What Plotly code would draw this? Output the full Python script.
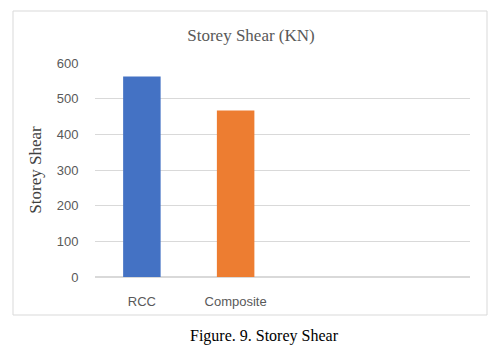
import plotly.graph_objects as go

categories = ["RCC", "Composite"]
values = [562, 467]
colors = ["#4472C4", "#ED7D31"]
y_ticks = [0, 100, 200, 300, 400, 500, 600]

fig = go.Figure()
fig.add_trace(go.Bar(
    x=list(range(len(categories))), y=values,
    marker=dict(color=colors, line=dict(width=0)),
    width=0.4, showlegend=False, hoverinfo="skip",
))

fig.update_layout(
    width=496, height=355,
    margin=dict(l=95, r=26, t=63, b=78),
    paper_bgcolor="white", plot_bgcolor="white",
    title=dict(text="Storey Shear (KN)", x=(251-0)/496, xanchor="center",
               y=1-35/355, yanchor="middle",
               font=dict(family="Liberation Serif", size=17, color="#595959")),
    xaxis=dict(range=[-0.5, 3.5], tickvals=[0, 1], ticktext=categories,
               showgrid=False, zeroline=False, showline=False,
               ticks="outside", ticklen=12, tickcolor="rgba(0,0,0,0)",
               tickfont=dict(family="Liberation Sans", size=13, color="#595959")),
    yaxis=dict(range=[0, 600], tickvals=y_ticks, showgrid=True, gridcolor="#d9d9d9",
               gridwidth=1, zeroline=True, zerolinecolor="#d9d9d9", showline=False,
               ticks="outside", ticklen=13, tickcolor="rgba(0,0,0,0)",
               tickfont=dict(family="Liberation Sans", size=13, color="#595959"),
               title=dict(text="Storey Shear", standoff=10,
                          font=dict(family="Liberation Serif", size=17, color="#404040"))),
    shapes=[dict(type="rect", xref="paper", yref="paper",
                 x0=(13-95)/375, x1=(487-95)/375, y0=(277-315)/214, y1=(277-11)/214,
                 line=dict(color="#d9d9d9", width=1), fillcolor="rgba(0,0,0,0)", layer="below")],
    annotations=[dict(text="Figure. 9. Storey Shear", xref="paper", yref="paper",
                      x=(264-95)/375, y=(277-336)/214, xanchor="center", yanchor="middle",
                      showarrow=False,
                      font=dict(family="Liberation Serif", size=16, color="black"))],
)

fig.write_html("out.html")
